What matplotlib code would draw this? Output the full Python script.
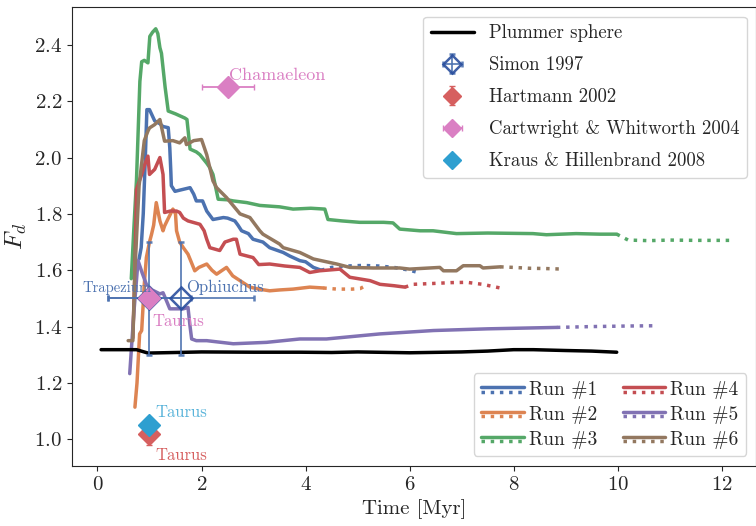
import numpy as np
import matplotlib
matplotlib.use("Agg")
import matplotlib.pyplot as plt
import seaborn as sns
from matplotlib.lines import Line2D

sns.set_style("ticks")
plt.rcParams['font.family'] = ['serif']
plt.rcParams['font.serif'] = ['cmr10', 'DejaVu Serif']
plt.rcParams['mathtext.fontset'] = 'cm'
plt.rcParams['axes.unicode_minus'] = False
plt.rcParams['axes.formatter.use_mathtext'] = True

# Plummer sphere reference run
plummer_t = [0.07, 0.5, 0.75, 0.97, 1.5, 2, 3, 3.89, 4.5, 5, 6, 7, 7.5, 8, 8.38, 9, 9.5, 9.98]
plummer_f = [1.318, 1.318, 1.318, 1.306, 1.308, 1.31, 1.309, 1.309, 1.308, 1.31, 1.307, 1.31,
             1.313, 1.318, 1.318, 1.315, 1.313, 1.309]

# runs: solid part, then dotted continuation
run1_t = [0.8, 0.84, 0.88, 0.92, 0.95, 1.0, 1.05, 1.1, 1.2, 1.26, 1.36, 1.39, 1.41, 1.42, 1.49, 1.6, 1.78,
          1.85, 1.9, 2.02, 2.1, 2.22, 2.42, 2.5, 2.64, 2.7, 2.77, 2.9, 2.99, 3.18, 3.31, 3.57, 3.7, 3.89,
          4.0, 4.15, 4.3]
run1_f = [1.64, 1.68, 1.8, 2.0, 2.17, 2.17, 2.15, 2.13, 2.12, 2.11, 2.106, 2.035, 1.95, 1.90, 1.88, 1.885,
          1.893, 1.87, 1.846, 1.846, 1.81, 1.78, 1.787, 1.785, 1.775, 1.76, 1.74, 1.73, 1.71, 1.70, 1.68,
          1.663, 1.65, 1.634, 1.63, 1.61, 1.60]
run1_dt = [4.3, 4.5, 4.8, 5.1, 5.4, 5.7, 6.0, 6.2]
run1_df = [1.60, 1.61, 1.615, 1.617, 1.615, 1.61, 1.60, 1.59]

run2_t = [0.72, 0.76, 0.81, 0.85, 0.9, 0.94, 1.0, 1.04, 1.08, 1.13, 1.2, 1.26, 1.29, 1.35, 1.45, 1.5, 1.52,
          1.58, 1.65, 1.74, 1.8, 1.87, 1.95, 2.1, 2.2, 2.29, 2.4, 2.48, 2.6, 2.74, 2.93, 3.1, 3.31, 3.5,
          3.76, 4.08, 4.34]
run2_f = [1.114, 1.2, 1.374, 1.386, 1.55, 1.645, 1.70, 1.728, 1.76, 1.84, 1.775, 1.74, 1.757, 1.78, 1.817,
          1.80, 1.74, 1.70, 1.68, 1.657, 1.63, 1.598, 1.61, 1.622, 1.60, 1.586, 1.60, 1.61, 1.58, 1.563,
          1.54, 1.533, 1.527, 1.53, 1.533, 1.54, 1.537]
run2_dt = [4.34, 4.6, 4.9, 5.05, 5.2]
run2_df = [1.537, 1.533, 1.533, 1.535, 1.55]

run3_t = [0.65, 0.7, 0.75, 0.815, 0.85, 0.9, 0.97, 1.006, 1.06, 1.12, 1.16, 1.2, 1.23, 1.3, 1.36, 1.5,
          1.68, 1.72, 1.78, 1.9, 1.97, 2.1, 2.16, 2.22, 2.32, 2.5, 2.61, 2.87, 3.12, 3.5, 3.76, 4.1, 4.37,
          4.43, 4.7, 5.04, 5.5, 5.68, 5.81, 6.2, 6.45, 6.9, 7.5, 8.37, 8.63, 9.2, 9.66, 9.98]
run3_f = [1.57, 1.75, 1.92, 2.27, 2.34, 2.345, 2.336, 2.43, 2.445, 2.457, 2.44, 2.39, 2.37, 2.25, 2.165,
          2.155, 2.14, 2.135, 2.03, 2.02, 2.01, 1.98, 1.964, 1.94, 1.852, 1.85, 1.846, 1.84, 1.83, 1.825,
          1.817, 1.82, 1.817, 1.78, 1.775, 1.77, 1.77, 1.768, 1.746, 1.74, 1.74, 1.73, 1.732, 1.73, 1.726,
          1.73, 1.728, 1.728]
run3_dt = [9.98, 10.2, 10.6, 11.0, 11.5, 12.0, 12.2]
run3_df = [1.728, 1.707, 1.705, 1.707, 1.706, 1.706, 1.706]

run4_t = [0.68, 0.72, 0.75, 0.85, 0.91, 0.97, 1.0, 1.1, 1.2, 1.26, 1.29, 1.4, 1.52, 1.58, 1.65, 1.74, 1.97,
          2.05, 2.1, 2.16, 2.35, 2.45, 2.61, 2.67, 2.74, 2.99, 3.1, 3.31, 3.6, 3.89, 4.08, 4.27, 4.66,
          4.85, 5.24, 5.43, 5.7, 5.91]
run4_f = [1.36, 1.6, 1.887, 1.94, 1.976, 2.005, 1.94, 1.958, 2.0, 1.94, 1.805, 1.81, 1.81, 1.805, 1.785,
          1.775, 1.763, 1.74, 1.71, 1.68, 1.67, 1.70, 1.71, 1.71, 1.657, 1.645, 1.62, 1.622, 1.615, 1.61,
          1.592, 1.598, 1.604, 1.575, 1.563, 1.55, 1.545, 1.54]
run4_dt = [5.91, 6.07, 6.45, 6.8, 7.1, 7.4, 7.74]
run4_df = [1.54, 1.55, 1.553, 1.556, 1.557, 1.55, 1.537]

run5_t = [0.62, 0.7, 0.78, 0.86, 0.94, 1.05, 1.2, 1.26, 1.33, 1.39, 1.5, 1.65, 1.74, 1.78, 1.81, 1.9, 2.1,
          2.61, 3.25, 3.89, 4.4, 5.43, 6.46, 7.5, 8.83]
run5_f = [1.233, 1.45, 1.634, 1.59, 1.55, 1.53, 1.516, 1.52, 1.49, 1.463, 1.463, 1.463, 1.468, 1.40,
          1.356, 1.35, 1.35, 1.339, 1.344, 1.356, 1.356, 1.374, 1.386, 1.392, 1.397]
run5_dt = [8.83, 9.5, 10.2, 10.75]
run5_df = [1.397, 1.40, 1.402, 1.403]

run6_t = [0.59, 0.68, 0.72, 0.8, 0.9, 0.97, 1.0, 1.1, 1.2, 1.29, 1.45, 1.58, 1.68, 1.71, 1.85, 2.0, 2.1,
          2.22, 2.29, 2.48, 2.74, 2.93, 3.12, 3.18, 3.5, 3.57, 3.89, 4.15, 4.6, 4.85, 5.3, 5.81, 6.0, 6.58,
          6.65, 6.9, 7.03, 7.35, 7.41, 7.74]
run6_f = [1.35, 1.35, 1.6, 1.9, 2.06, 2.094, 2.105, 2.117, 2.135, 2.058, 2.06, 2.052, 2.07, 2.046, 2.06,
          2.064, 2.01, 1.917, 1.893, 1.858, 1.80, 1.787, 1.74, 1.728, 1.693, 1.68, 1.663, 1.64, 1.622,
          1.61, 1.608, 1.608, 1.604, 1.61, 1.598, 1.598, 1.616, 1.616, 1.608, 1.612]
run6_dt = [7.74, 8.0, 8.3, 8.6, 8.95]
run6_df = [1.612, 1.61, 1.607, 1.606, 1.604]

run_names = ['Run #1', 'Run #2', 'Run #3', 'Run #4', 'Run #5', 'Run #6']
run_colors = ['#4C72B0', '#DD8452', '#55A868', '#C44E52', '#8172B3', '#937860']

# observations
simon_t = [1.0, 1.6]
simon_f = [1.5, 1.5]
simon_terr = [[0.8, 1.4], [0.8, 1.4]]
simon_ferr = [0.2, 0.2]
hartmann_t, hartmann_f, hartmann_ferr = [1.0], [1.02], [0.04]
cw_t = [2.5, 1.0]
cw_f = [2.25, 1.5]
cw_terr = [0.5, 0.0]
kraus_t, kraus_f = [1.0], [1.05]

fig = plt.figure(figsize=(7.56, 5.26), dpi=100)
ax = fig.add_axes([0.0952, 0.114, 0.905, 0.872])

runs = [(run1_t, run1_f, run1_dt, run1_df), (run2_t, run2_f, run2_dt, run2_df),
        (run3_t, run3_f, run3_dt, run3_df), (run4_t, run4_f, run4_dt, run4_df),
        (run5_t, run5_f, run5_dt, run5_df), (run6_t, run6_f, run6_dt, run6_df)]
run_handles = []
for (t, f, dt, df), c in zip(runs, run_colors):
    l1, = ax.plot(t, f, color=c, lw=2.5)
    l2, = ax.plot(dt, df, color=c, lw=2.5, ls=':')
    run_handles.append((l1, l2))

pl, = ax.plot(plummer_t, plummer_f, color='black', lw=2.5, label='Plummer sphere')

e1 = ax.errorbar(simon_t, simon_f, xerr=simon_terr, yerr=simon_ferr, fmt='D', ms=11, mfc='none',
                 mec='#2B4F9E', mew=1.8, ecolor='#4C72B0', elinewidth=1.3, capsize=2, capthick=1.8,
                 alpha=0.9, label='Simon 1997')
e2 = ax.errorbar(hartmann_t, hartmann_f, yerr=hartmann_ferr, fmt='D', ms=11, color='#D65F5F',
                 elinewidth=1.3, capsize=2, label='Hartmann 2002')
e3 = ax.errorbar(cw_t, cw_f, xerr=cw_terr, fmt='D', ms=11, color='#DA7FC3', elinewidth=1.3, capsize=2,
                 label='Cartwright & Whitworth 2004')
e4 = ax.errorbar(kraus_t, kraus_f, fmt='D', ms=11, color='#2E9FD0', label='Kraus & Hillenbrand 2008')

ax.text(2.52, 2.29, 'Chamaeleon', color='#DA7FC3', fontsize=13, ha='left', va='center')
ax.text(-0.28, 1.538, 'Trapezium', color='#4C72B0', fontsize=10.5, ha='left', va='center')
ax.text(1.70, 1.54, 'Ophiuchus', color='#4C72B0', fontsize=12, ha='left', va='center')
ax.text(1.06, 1.42, 'Taurus', color='#DA7FC3', fontsize=12, ha='left', va='center')
ax.text(1.12, 1.096, 'Taurus', color='#5AB4DA', fontsize=12, ha='left', va='center')
ax.text(1.12, 0.943, 'Taurus', color='#D65F5F', fontsize=12, ha='left', va='center')


class StackedHandler:
    def legend_artist(self, legend, orig_handle, fontsize, handlebox):
        x0, y0 = handlebox.xdescent, handlebox.ydescent
        w, h = handlebox.width, handlebox.height
        solid, dotted = orig_handle
        a = Line2D([x0, x0 + w], [y0 + h * 0.55, y0 + h * 0.55], color=solid.get_color(), lw=2.5)
        b = Line2D([x0, x0 + w], [y0 + h * 0.25, y0 + h * 0.25], color=solid.get_color(), lw=2.5, ls=':')
        handlebox.add_artist(a)
        handlebox.add_artist(b)
        return a


leg1 = ax.legend(handles=[pl, e1, e2, e3, e4], loc='upper right', fontsize=13.5, frameon=True,
                 labelspacing=0.75, handlelength=2.3, markerscale=0.85)
ax.add_artist(leg1)
ax.legend(handles=run_handles, labels=run_names, loc='lower right', ncol=2, fontsize=14,
          handler_map={tuple: StackedHandler()}, handlelength=2.2, columnspacing=1.3,
          handletextpad=0.25, labelspacing=0.35)

ax.set_xlim(-0.49, 12.66)
ax.set_ylim(0.905, 2.533)
ax.set_xticks([0, 2, 4, 6, 8, 10, 12])
ax.tick_params(labelsize=15)
ax.set_xlabel('Time [Myr]', fontsize=15)
ax.set_ylabel('$F_d$', fontsize=18)

fig.savefig('out.png', dpi=100)
